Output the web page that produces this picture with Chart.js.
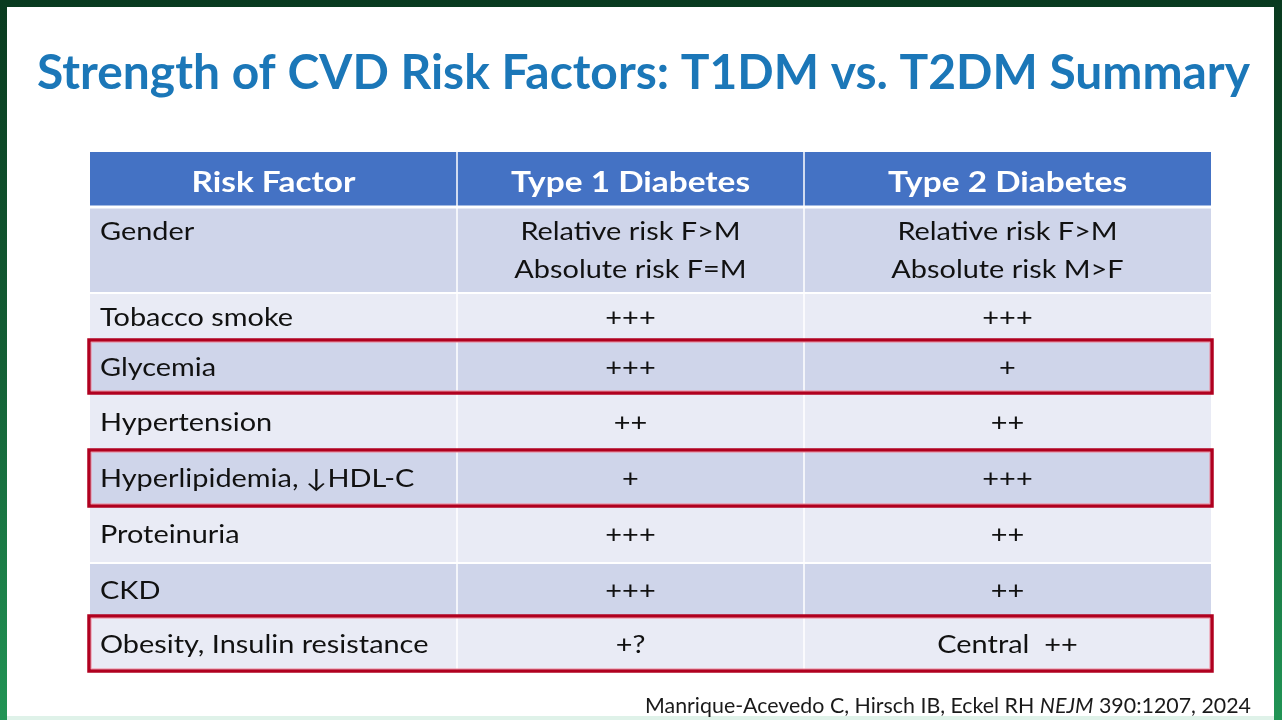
<!DOCTYPE html>
<html>
<head>
<meta charset="utf-8">
<script src="https://cdn.jsdelivr.net/npm/chart.js@4.4.1/dist/chart.umd.min.js"></script>
<style>
  html, body { margin: 0; padding: 0; overflow: hidden; background: #fff; }
  canvas { display: block; }
</style>
</head>
<body>
<canvas id="slide" width="1282" height="720"></canvas>
<script>
// ---- data ----
const titleText = 'Strength of CVD Risk Factors: T1DM vs. T2DM Summary';
const columnHeaders = ['Risk Factor', 'Type 1 Diabetes', 'Type 2 Diabetes'];
const riskFactors = ['Gender', 'Tobacco smoke', 'Glycemia', 'Hypertension',
  'Hyperlipidemia, \u2193HDL-C', 'Proteinuria', 'CKD', 'Obesity, Insulin resistance'];
const type1Strength = ['Relative risk F>M\nAbsolute risk F=M', '+++', '+++', '++', '+', '+++', '+++', '+?'];
const type2Strength = ['Relative risk F>M\nAbsolute risk M>F', '+++', '+', '++', '+++', '++', '++', 'Central  ++'];
const highlighted = ['Glycemia', 'Hyperlipidemia, \u2193HDL-C', 'Obesity, Insulin resistance'];
const citation = [['Manrique-Acevedo C, Hirsch IB, Eckel RH ', 'normal'], ['NEJM', 'italic'], [' 390:1207, 2024', 'normal']];

// ---- layout (table units) ----
const colSize = [367, 347, 407];
const rowSize = [55, 86, 48, 51, 59, 54, 58, 54, 53];

const edges = sizes => sizes.reduce((a, s) => (a.push(a[a.length - 1] + s), a), [0]);
const colEdge = edges(colSize);
const rowEdge = edges(rowSize);

const columns = [riskFactors, type1Strength, type2Strength];
const datasets = columns.map((vals, c) => {
  const texts = [columnHeaders[c], ...vals];
  return {
    label: columnHeaders[c],
    texts: texts,
    data: texts.map((t, r) => ({ x: (colEdge[c] + colEdge[c + 1]) / 2, y: (rowEdge[r] + rowEdge[r + 1]) / 2 })),
    pointRadius: 0,
    pointHoverRadius: 0
  };
});

const FONT = 'Lato, "Open Sans", sans-serif';

function fit(ctx, font, ref, target) {
  ctx.font = font;
  return target / ctx.measureText(ref).width;
}

function drawText(ctx, text, x, y, sx, align) {
  ctx.save();
  ctx.translate(x, y);
  ctx.scale(sx, 1);
  ctx.textAlign = align;
  ctx.fillText(text, 0, 0);
  ctx.restore();
}

const tablePlugin = {
  id: 'table',
  beforeDraw(chart) {
    const ctx = chart.ctx;
    const W = chart.width, H = chart.height;
    const xs = chart.scales.x, ys = chart.scales.y;

    // slide frame
    const g = ctx.createLinearGradient(0, 0, 0, H);
    g.addColorStop(0, '#093a1f');
    g.addColorStop(0.5, '#135f35');
    g.addColorStop(1, '#219455');
    ctx.fillStyle = g;
    ctx.fillRect(0, 0, W, H);
    ctx.fillStyle = '#dff2e9';
    ctx.fillRect(7, 712, 1267, 8);
    ctx.fillStyle = '#ffffff';
    ctx.fillRect(7, 7, 1267, 709);

    // title
    ctx.fillStyle = '#1b77b8';
    ctx.textBaseline = 'alphabetic';
    const tFont = 'bold 47px ' + FONT;
    const tsx = fit(ctx, tFont, titleText, 1213);
    drawText(ctx, titleText, 37, 89, tsx, 'left');

    // citation
    const cFont = s => s + ' 21px ' + FONT;
    let total = 0;
    citation.forEach(([t, s]) => { ctx.font = cFont(s); total += ctx.measureText(t).width; });
    const csx = 606 / total;
    let cx = 645;
    ctx.fillStyle = '#1a1a1a';
    citation.forEach(([t, s]) => {
      ctx.font = cFont(s);
      drawText(ctx, t, cx, 713, csx, 'left');
      cx += ctx.measureText(t).width * csx;
    });

    // cells
    for (let r = 0; r < rowSize.length; r++) {
      const y0 = ys.getPixelForValue(rowEdge[r]);
      const y1 = ys.getPixelForValue(rowEdge[r + 1]);
      ctx.fillStyle = r === 0 ? '#4472c4' : (r % 2 === 1 ? '#cfd5ea' : '#e9ebf5');
      for (let c = 0; c < colSize.length; c++) {
        const x0 = xs.getPixelForValue(colEdge[c]);
        const x1 = xs.getPixelForValue(colEdge[c + 1]);
        ctx.fillRect(x0, y0, x1 - x0, y1 - y0);
      }
    }
    // white separators
    ctx.strokeStyle = '#ffffff';
    const xl = xs.getPixelForValue(0), xr = xs.getPixelForValue(colEdge[colEdge.length - 1]);
    const yt = ys.getPixelForValue(0), yb = ys.getPixelForValue(rowEdge[rowEdge.length - 1]);
    for (let r = 1; r < rowSize.length; r++) {
      const y = ys.getPixelForValue(rowEdge[r]);
      ctx.lineWidth = r === 1 ? 3 : 2;
      ctx.beginPath(); ctx.moveTo(xl, y); ctx.lineTo(xr, y); ctx.stroke();
    }
    ctx.lineWidth = 1.5;
    for (let c = 1; c < colSize.length; c++) {
      const x = xs.getPixelForValue(colEdge[c]);
      ctx.beginPath(); ctx.moveTo(x, yt); ctx.lineTo(x, yb); ctx.stroke();
    }
  },
  afterDatasetsDraw(chart) {
    const ctx = chart.ctx;
    const xs = chart.scales.x, ys = chart.scales.y;
    const hFont = 'bold 28px ' + FONT;
    const bFont = '25px ' + FONT;
    const hsx = fit(ctx, hFont, 'Risk Factor', 164);
    const bsx = fit(ctx, bFont, 'Tobacco smoke', 193);
    ctx.textBaseline = 'alphabetic';

    chart.data.datasets.forEach((ds, c) => {
      const meta = chart.getDatasetMeta(c);
      meta.data.forEach((pt, r) => {
        const text = ds.texts[r];
        if (r === 0) {
          ctx.font = hFont;
          ctx.fillStyle = '#ffffff';
          drawText(ctx, text, pt.x, pt.y + 12, hsx, 'center');
          return;
        }
        ctx.font = bFont;
        ctx.fillStyle = '#111111';
        const lines = text.split('\n');
        const lineH = 38;
        const rowLines = Math.max(...columns.map(col => col[r - 1].split('\n').length));
        const top = pt.y - (rowLines - 1) * lineH / 2 + 9;
        const left = c === 0;
        const x = left ? xs.getPixelForValue(colEdge[0]) + 10 : pt.x;
        lines.forEach((ln, i) => drawText(ctx, ln, x, top + i * lineH, bsx, left ? 'left' : 'center'));
      });
    });

    // highlight boxes
    riskFactors.forEach((name, i) => {
      if (!highlighted.includes(name)) return;
      const r = i + 1;
      const x0 = xs.getPixelForValue(0) - 1;
      const x1 = xs.getPixelForValue(colEdge[colEdge.length - 1]) + 1;
      const y0 = ys.getPixelForValue(rowEdge[r]) - 1;
      const y1 = ys.getPixelForValue(rowEdge[r + 1]) + 1;
      ctx.strokeStyle = '#b0001f';
      ctx.lineWidth = 3.5;
      ctx.strokeRect(x0, y0, x1 - x0, y1 - y0);
      ctx.strokeStyle = 'rgba(240,130,150,0.7)';
      ctx.lineWidth = 1;
      ctx.strokeRect(x0 + 2.2, y0 + 2.2, x1 - x0 - 4.4, y1 - y0 - 4.4);
    });
  }
};

function build() {
  new Chart(document.getElementById('slide'), {
    type: 'scatter',
    data: { datasets: datasets },
    options: {
      responsive: false,
      animation: false,
      events: [],
      layout: { padding: { left: 90, right: 71, top: 152, bottom: 50 } },
      scales: {
        x: { type: 'linear', min: 0, max: colEdge[colEdge.length - 1], display: false },
        y: { type: 'linear', min: 0, max: rowEdge[rowEdge.length - 1], reverse: true, display: false }
      },
      plugins: { legend: { display: false }, tooltip: { enabled: false }, title: { display: false } }
    },
    plugins: [tablePlugin]
  });
}

if (document.fonts && document.fonts.load) {
  Promise.all([
    document.fonts.load('bold 47px Lato'),
    document.fonts.load('25px Lato'),
    document.fonts.load('italic 21px Lato')
  ]).then(build, build);
} else {
  build();
}
</script>
</body>
</html>
